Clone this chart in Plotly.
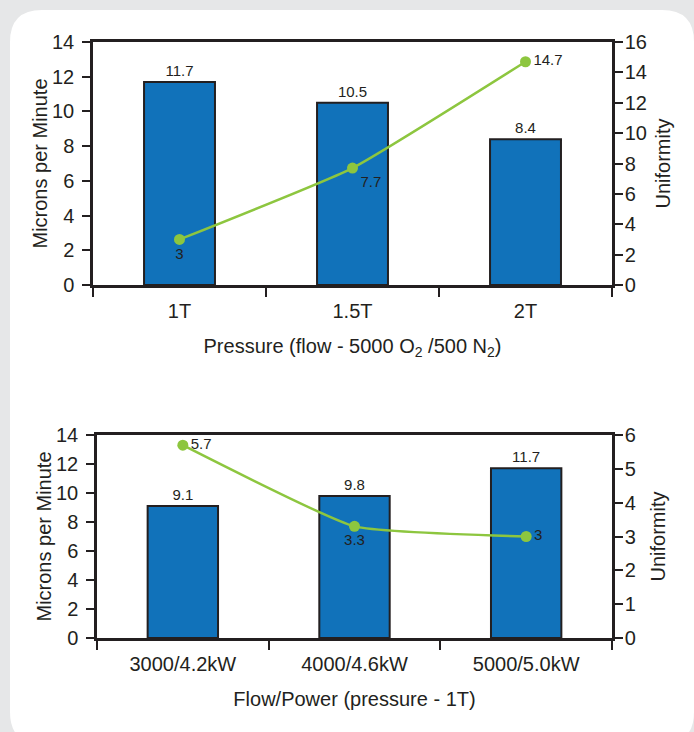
import plotly.graph_objects as go

# ---- data ----
pressure_cats = ["1T", "1.5T", "2T"]
pressure_rate = [11.7, 10.5, 8.4]
pressure_unif = [3, 7.7, 14.7]

flow_cats = ["3000/4.2kW", "4000/4.6kW", "5000/5.0kW"]
flow_rate = [9.1, 9.8, 11.7]
flow_unif = [5.7, 3.3, 3]

# ---- styles ----
W, H = 694, 732
DARK = "#231f20"
BLUE = "#1172ba"
GREEN = "#8dc63f"
FONT = "Liberation Sans, Arial, sans-serif"

def px(x):
    return x / W

def py(y):
    return 1 - y / H

fig = go.Figure()

bar_style = dict(marker=dict(color=BLUE, line=dict(color=DARK, width=2)),
                 width=0.41, textposition="outside", cliponaxis=False,
                 textfont=dict(size=15, color=DARK, family=FONT),
                 texttemplate="%{y}", showlegend=False)
line_style = dict(mode="lines+markers+text",
                  line=dict(color=GREEN, width=2.5, shape="spline", smoothing=0.4),
                  marker=dict(color=GREEN, size=11), cliponaxis=False,
                  textfont=dict(size=15, color=DARK, family=FONT),
                  texttemplate="%{y}", showlegend=False)

fig.add_trace(go.Bar(x=pressure_cats, y=pressure_rate, xaxis="x", yaxis="y", **bar_style))
fig.add_trace(go.Scatter(x=pressure_cats, y=pressure_unif, xaxis="x", yaxis="y2",
                         textposition=["bottom center", "bottom right", "middle right"], **line_style))
fig.add_trace(go.Bar(x=flow_cats, y=flow_rate, xaxis="x2", yaxis="y3", **bar_style))
fig.add_trace(go.Scatter(x=flow_cats, y=flow_unif, xaxis="x2", yaxis="y4",
                         textposition=["middle right", "bottom center", "middle right"], **line_style))

axis_common = dict(showline=True, linecolor=DARK, linewidth=2.5, ticks="outside",
                   tickcolor=DARK, tickwidth=2, ticklen=8, showgrid=False, zeroline=False,
                   automargin=False,
                   tickfont=dict(size=20, color=DARK, family=FONT),
                   title_font=dict(size=20, color=DARK, family=FONT))
xaxis_extra = dict(range=[-0.5, 2.5], tickson="boundaries", mirror=True,
                   ticklen=9, ticklabelstandoff=6)
yl_extra = dict(ticklabelstandoff=4)
yr_extra = dict(ticklabelstandoff=-2, side="right")

top_dom_x = [px(93), px(612)]
top_dom_y = [py(285), py(42)]
bot_dom_x = [px(97), px(612)]
bot_dom_y = [py(638), py(435)]

fig.update_layout(
    width=W, height=H,
    margin=dict(l=0, r=0, t=0, b=0),
    paper_bgcolor="#e6e7e8",
    plot_bgcolor="rgba(0,0,0,0)",
    xaxis={**axis_common, **xaxis_extra, "domain": top_dom_x, "anchor": "y",
           "title": dict(text="Pressure (flow - 5000 O<sub>2</sub> /500 N<sub>2</sub>)", standoff=19)},
    yaxis={**axis_common, **yl_extra, "domain": top_dom_y, "anchor": "x", "range": [0, 14], "dtick": 2,
           "title": dict(text="Microns per Minute", standoff=0)},
    yaxis2={**axis_common, **yr_extra, "domain": top_dom_y, "anchor": "x", "overlaying": "y",
            "range": [0, 16], "dtick": 2, "title": dict(text="Uniformity", standoff=10)},
    xaxis2={**axis_common, **xaxis_extra, "domain": bot_dom_x, "anchor": "y3",
            "title": dict(text="Flow/Power (pressure - 1T)", standoff=19)},
    yaxis3={**axis_common, **yl_extra, "domain": bot_dom_y, "anchor": "x2", "range": [0, 14], "dtick": 2,
            "title": dict(text="Microns per Minute", standoff=0)},
    yaxis4={**axis_common, **yr_extra, "domain": bot_dom_y, "anchor": "x2", "overlaying": "y3",
            "range": [0, 6], "dtick": 1, "title": dict(text="Uniformity", standoff=17)},
)

# white rounded panel behind the charts
L, T, R, B, r = 10, 10, 694, 744, 32
path = (f"M {px(L)},{py(T + r)} Q {px(L)},{py(T)} {px(L + r)},{py(T)} "
        f"L {px(R - r)},{py(T)} Q {px(R)},{py(T)} {px(R)},{py(T + r)} "
        f"L {px(R)},{py(B - r)} Q {px(R)},{py(B)} {px(R - r)},{py(B)} "
        f"L {px(L + r)},{py(B)} Q {px(L)},{py(B)} {px(L)},{py(B - r)} Z")
fig.add_shape(type="path", path=path, xref="paper", yref="paper",
              fillcolor="white", line=dict(width=0), layer="below")

fig.write_html("out.html")
